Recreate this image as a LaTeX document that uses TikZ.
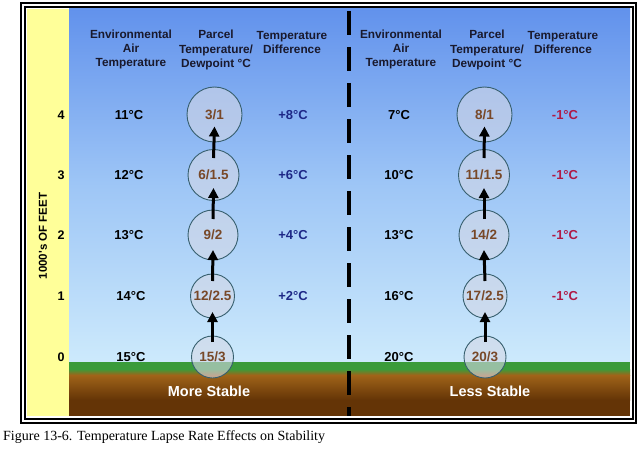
\documentclass[tikz,border=0pt]{standalone}
\usepackage{fontspec}
\setmainfont{Liberation Serif}
\newfontfamily\arial{Liberation Sans}
\usetikzlibrary{arrows.meta}
\definecolor{skytop}{RGB}{98,146,236}
\definecolor{skymid}{RGB}{158,198,246}
\definecolor{skybot}{RGB}{205,234,252}
\definecolor{yellowstrip}{RGB}{255,255,153}
\definecolor{grass}{RGB}{58,155,58}
\definecolor{soiltop}{RGB}{160,100,25}
\definecolor{soilbot}{RGB}{100,52,6}
\definecolor{hdrcol}{RGB}{25,25,45}
\definecolor{parcelcol}{RGB}{120,72,40}
\definecolor{circedge}{RGB}{55,95,110}
\definecolor{circfill}{RGB}{212,216,230}
\definecolor{plusblue}{RGB}{30,40,135}
\definecolor{minusred}{RGB}{175,25,70}
\tikzset{
  hdr/.style={font=\arial\bfseries\fontsize{11.8}{14.2}\selectfont, text=hdrcol, align=center, inner sep=0pt},
  val/.style={font=\arial\bfseries\fontsize{13}{15}\selectfont, inner sep=0pt},
  alt/.style={font=\arial\bfseries\fontsize{12.5}{14}\selectfont, inner sep=0pt},
  parcel/.style={circle, draw=circedge, line width=0.9pt, fill=circfill, fill opacity=0.6, text opacity=1,
    text=parcelcol, font=\arial\bfseries\fontsize{13.5}{15}\selectfont, inner sep=0pt},
  arr/.style={line width=3pt, -{Triangle[length=10pt,width=10pt]}},
  stable/.style={font=\arial\bfseries\fontsize{14.5}{16}\selectfont, text=white, inner sep=0pt}
}
\begin{document}
\begin{tikzpicture}[x=1pt,y=-1pt]
\useasboundingbox (0,0) rectangle (640,452);
% frame
\draw[line width=1.4pt] (21,3) rectangle (636,423);
\draw[line width=1.2pt] (25,7) rectangle (633,419);
% yellow strip
\fill[yellowstrip] (27,9) rectangle (69,416);
% sky
\shade[top color=skytop, bottom color=skybot, middle color=skymid] (69,9) rectangle (630,363);
% grass and soil
\fill[grass] (69,362) rectangle (630,370);
\shade[top color=grass, bottom color=soiltop] (69,369) rectangle (630,375);
\shade[top color=soiltop, bottom color=soilbot] (69,375) rectangle (630,400);
\fill[soilbot] (69,399.5) rectangle (630,416);
% dashed divider
\draw[line width=3.5pt, dash pattern=on 24pt off 12pt] (349,11) -- (349,416);
% axis label
\node[font=\arial\bfseries\fontsize{11.5}{13}\selectfont, rotate=90, inner sep=0pt] (axis) at (43,236) {1000's OF FEET};
% altitude numbers
\node[alt] (a4) at (61,115) {4};
\node[alt] (a3) at (61,175) {3};
\node[alt] (a2) at (61,235) {2};
\node[alt] (a1) at (61,296) {1};
\node[alt] (a0) at (61,357) {0};
% headers left
\node[hdr] (hLe) at (131,49.5) {Environmental\\Air\\Temperature};
\node[hdr] (hLp) at (216,50) {Parcel\\Temperature/\\Dewpoint °C};
\node[hdr] (hLd) at (292,42.5) {Temperature\\Difference};
% headers right
\node[hdr] (hRe) at (401,49.5) {Environmental\\Air\\Temperature};
\node[hdr] (hRp) at (487,50) {Parcel\\Temperature/\\Dewpoint °C};
\node[hdr] (hRd) at (563,42.5) {Temperature\\Difference};
% left environmental
\node[val] (Le4) at (129,115) {11°C};
\node[val] (Le3) at (129,175) {12°C};
\node[val] (Le2) at (129,235) {13°C};
\node[val] (Le1) at (131,296) {14°C};
\node[val] (Le0) at (131,357) {15°C};
% left circles
\node[parcel, minimum size=55pt] (L4) at (214.5,114.5) {3/1};
\node[parcel, minimum size=51pt] (L3) at (213.5,175) {6/1.5};
\node[parcel, minimum size=50pt] (L2) at (213,235) {9/2};
\node[parcel, minimum size=44pt] (L1) at (212.5,296) {12/2.5};
\node[parcel, minimum size=42pt] (L0) at (212.5,357) {15/3};
% left diff
\node[val, text=plusblue] (Ld4) at (293,115) {+8°C};
\node[val, text=plusblue] (Ld3) at (293,175) {+6°C};
\node[val, text=plusblue] (Ld2) at (293,235) {+4°C};
\node[val, text=plusblue] (Ld1) at (293,296) {+2°C};
% right environmental
\node[val] (Re4) at (399,115) {7°C};
\node[val] (Re3) at (399,175) {10°C};
\node[val] (Re2) at (399,235) {13°C};
\node[val] (Re1) at (399,296) {16°C};
\node[val] (Re0) at (399,357) {20°C};
% right circles
\node[parcel, minimum size=55pt] (R4) at (484.5,114.5) {8/1};
\node[parcel, minimum size=51pt] (R3) at (484,175) {11/1.5};
\node[parcel, minimum size=50pt] (R2) at (484,235) {14/2};
\node[parcel, minimum size=44pt] (R1) at (485,296) {17/2.5};
\node[parcel, minimum size=42pt] (R0) at (485,357) {20/3};
% right diff
\node[val, text=minusred] (Rd4) at (565,115) {-1°C};
\node[val, text=minusred] (Rd3) at (565,175) {-1°C};
\node[val, text=minusred] (Rd2) at (565,235) {-1°C};
\node[val, text=minusred] (Rd1) at (565,296) {-1°C};
% arrows
\foreach \s in {L,R}{
  \draw[arr] ([yshift=15pt]\s0.center) -- ([yshift=-16pt]\s1.center);
  \draw[arr] ([yshift=15pt]\s1.center) -- ([yshift=-15pt]\s2.center);
  \draw[arr] ([yshift=16pt]\s2.center) -- ([yshift=-13pt]\s3.center);
  \draw[arr] ([yshift=17pt]\s3.center) -- ([yshift=-12pt]\s4.center);
}
% stability labels
\node[stable] (ms) at (209,391) {More Stable};
\node[stable] (ls) at (490,391) {Less Stable};
% caption
\node[anchor=west, font=\fontsize{14}{16}\selectfont, inner sep=0pt] (cap) at (3,437) {Figure 13-6. Temperature Lapse Rate Effects on Stability};
\end{tikzpicture}
\end{document}
